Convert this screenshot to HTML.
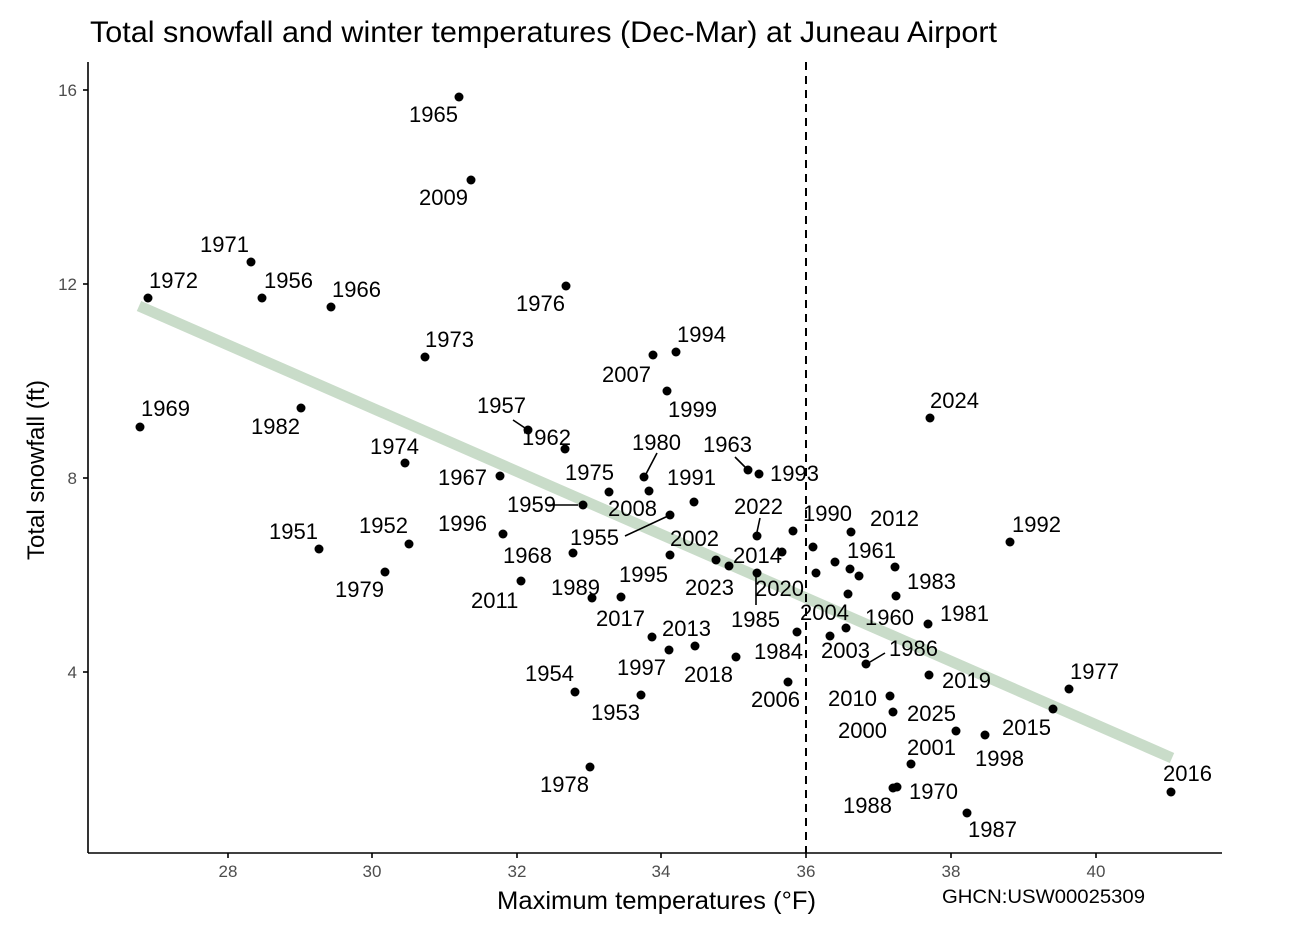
<!DOCTYPE html><html><head><meta charset="utf-8"><style>body{margin:0;background:#fff}svg{display:block;font-family:"Liberation Sans",sans-serif}</style></head><body>
<svg width="1300" height="926" viewBox="0 0 1300 926">
<text x="90" y="42" font-size="30" textLength="907" lengthAdjust="spacingAndGlyphs">Total snowfall and winter temperatures (Dec-Mar) at Juneau Airport</text>
<line x1="139" y1="306" x2="1172" y2="758" stroke="#c9dcc9" stroke-width="11"/>
<line x1="806" y1="62" x2="806" y2="853" stroke="#000" stroke-width="2" stroke-dasharray="8,6"/>
<g stroke="#000" stroke-width="1.6">
<line x1="88" y1="62" x2="88" y2="853"/><line x1="88" y1="853" x2="1222" y2="853"/>
<line x1="83" y1="90" x2="88" y2="90"/><line x1="83" y1="284" x2="88" y2="284"/><line x1="83" y1="478" x2="88" y2="478"/><line x1="83" y1="672" x2="88" y2="672"/>
<line x1="228" y1="853" x2="228" y2="858"/><line x1="372" y1="853" x2="372" y2="858"/><line x1="517" y1="853" x2="517" y2="858"/><line x1="661" y1="853" x2="661" y2="858"/><line x1="806" y1="853" x2="806" y2="858"/><line x1="951" y1="853" x2="951" y2="858"/><line x1="1096" y1="853" x2="1096" y2="858"/>
<line x1="513" y1="420" x2="528" y2="430"/><line x1="548" y1="505" x2="578" y2="505"/><line x1="625" y1="536" x2="668" y2="516"/><line x1="657" y1="453" x2="646" y2="474"/><line x1="735" y1="457" x2="746" y2="468"/><line x1="760" y1="518" x2="757" y2="532"/><line x1="756" y1="577" x2="756" y2="605"/><line x1="870" y1="662" x2="885" y2="653"/>
</g>
<g font-size="17" fill="#4d4d4d" text-anchor="end"><text x="77" y="96">16</text><text x="77" y="290">12</text><text x="77" y="484">8</text><text x="77" y="678">4</text></g>
<g font-size="17" fill="#4d4d4d" text-anchor="middle"><text x="228" y="877">28</text><text x="372" y="877">30</text><text x="517" y="877">32</text><text x="661" y="877">34</text><text x="806" y="877">36</text><text x="951" y="877">38</text><text x="1096" y="877">40</text></g>
<text x="497" y="909" font-size="25" textLength="319" lengthAdjust="spacingAndGlyphs">Maximum temperatures (°F)</text>
<text x="942" y="903" font-size="19" textLength="203" lengthAdjust="spacingAndGlyphs">GHCN:USW00025309</text>
<text transform="translate(44,470) rotate(-90)" font-size="24" text-anchor="middle">Total snowfall (ft)</text>
<g fill="#000">
<circle cx="459" cy="97" r="4.5"/><circle cx="471" cy="180" r="4.5"/><circle cx="251" cy="262" r="4.5"/><circle cx="148" cy="298" r="4.5"/><circle cx="262" cy="298" r="4.5"/><circle cx="331" cy="307" r="4.5"/><circle cx="566" cy="286" r="4.5"/><circle cx="425" cy="357" r="4.5"/><circle cx="676" cy="352" r="4.5"/><circle cx="653" cy="355" r="4.5"/><circle cx="667" cy="391" r="4.5"/><circle cx="930" cy="418" r="4.5"/><circle cx="140" cy="427" r="4.5"/><circle cx="301" cy="408" r="4.5"/><circle cx="528" cy="430" r="4.5"/><circle cx="565" cy="449" r="4.5"/><circle cx="405" cy="463" r="4.5"/><circle cx="500" cy="476" r="4.5"/><circle cx="503" cy="534" r="4.5"/><circle cx="319" cy="549" r="4.5"/><circle cx="409" cy="544" r="4.5"/><circle cx="385" cy="572" r="4.5"/><circle cx="521" cy="581" r="4.5"/><circle cx="592" cy="598" r="4.5"/>
<circle cx="644" cy="477" r="4.5"/><circle cx="748" cy="470" r="4.5"/><circle cx="759" cy="474" r="4.5"/><circle cx="609" cy="492" r="4.5"/><circle cx="649" cy="491" r="4.5"/><circle cx="583" cy="505" r="4.5"/><circle cx="670" cy="515" r="4.5"/><circle cx="694" cy="502" r="4.5"/><circle cx="757" cy="536" r="4.5"/><circle cx="793" cy="531" r="4.5"/><circle cx="813" cy="547" r="4.5"/><circle cx="573" cy="553" r="4.5"/><circle cx="670" cy="555" r="4.5"/><circle cx="716" cy="560" r="4.5"/><circle cx="729" cy="566" r="4.5"/><circle cx="782" cy="552" r="4.5"/><circle cx="757" cy="573" r="4.5"/><circle cx="621" cy="597" r="4.5"/><circle cx="797" cy="632" r="4.5"/><circle cx="652" cy="637" r="4.5"/><circle cx="669" cy="650" r="4.5"/><circle cx="695" cy="646" r="4.5"/><circle cx="736" cy="657" r="4.5"/><circle cx="788" cy="682" r="4.5"/><circle cx="575" cy="692" r="4.5"/><circle cx="641" cy="695" r="4.5"/>
<circle cx="851" cy="532" r="4.5"/><circle cx="835" cy="562" r="4.5"/><circle cx="850" cy="569" r="4.5"/><circle cx="859" cy="576" r="4.5"/><circle cx="895" cy="567" r="4.5"/><circle cx="816" cy="573" r="4.5"/><circle cx="848" cy="594" r="4.5"/><circle cx="896" cy="596" r="4.5"/><circle cx="928" cy="624" r="4.5"/><circle cx="846" cy="628" r="4.5"/><circle cx="830" cy="636" r="4.5"/><circle cx="866" cy="664" r="4.5"/><circle cx="929" cy="675" r="4.5"/><circle cx="890" cy="696" r="4.5"/><circle cx="893" cy="712" r="4.5"/><circle cx="956" cy="731" r="4.5"/><circle cx="985" cy="735" r="4.5"/><circle cx="1010" cy="542" r="4.5"/>
<circle cx="1069" cy="689" r="4.5"/><circle cx="1053" cy="709" r="4.5"/><circle cx="911" cy="764" r="4.5"/><circle cx="1171" cy="792" r="4.5"/><circle cx="893" cy="788" r="4.5"/><circle cx="897" cy="787" r="4.5"/><circle cx="967" cy="813" r="4.5"/><circle cx="590" cy="767" r="4.5"/>
</g>
<g font-size="22">
<text x="409" y="122">1965</text><text x="419" y="205">2009</text><text x="200" y="252">1971</text><text x="149" y="288">1972</text><text x="264" y="288">1956</text><text x="332" y="297">1966</text><text x="516" y="311">1976</text><text x="425" y="347">1973</text><text x="677" y="342">1994</text><text x="602" y="382">2007</text><text x="668" y="417">1999</text><text x="930" y="408">2024</text><text x="141" y="416">1969</text><text x="251" y="434">1982</text><text x="477" y="413">1957</text><text x="522" y="445">1962</text><text x="370" y="454">1974</text><text x="632" y="450">1980</text><text x="703" y="452">1963</text><text x="770" y="481">1993</text><text x="438" y="485">1967</text><text x="565" y="480">1975</text><text x="667" y="485">1991</text><text x="507" y="512">1959</text><text x="608" y="516">2008</text><text x="734" y="514">2022</text><text x="803" y="521">1990</text><text x="870" y="526">2012</text><text x="1012" y="532">1992</text><text x="438" y="531">1996</text><text x="269" y="539">1951</text><text x="359" y="533">1952</text><text x="570" y="545">1955</text><text x="670" y="546">2002</text><text x="847" y="558">1961</text><text x="733" y="563">2014</text><text x="503" y="563">1968</text><text x="335" y="597">1979</text><text x="685" y="595">2023</text><text x="551" y="595">1989</text><text x="619" y="582">1995</text><text x="755" y="596">2020</text><text x="907" y="589">1983</text><text x="471" y="608">2011</text><text x="800" y="620">2004</text><text x="865" y="625">1960</text><text x="940" y="621">1981</text><text x="596" y="626">2017</text><text x="662" y="636">2013</text><text x="731" y="627">1985</text><text x="889" y="656">1986</text><text x="821" y="658">2003</text><text x="754" y="659">1984</text><text x="525" y="681">1954</text><text x="617" y="675">1997</text><text x="684" y="682">2018</text><text x="942" y="688">2019</text><text x="1070" y="679">1977</text><text x="751" y="707">2006</text><text x="828" y="706">2010</text><text x="591" y="720">1953</text><text x="907" y="721">2025</text><text x="1002" y="735">2015</text><text x="838" y="738">2000</text><text x="975" y="766">1998</text><text x="907" y="755">2001</text><text x="1163" y="781">2016</text><text x="540" y="792">1978</text><text x="909" y="799">1970</text><text x="843" y="813">1988</text><text x="968" y="837">1987</text>
</g>
</svg></body></html>
